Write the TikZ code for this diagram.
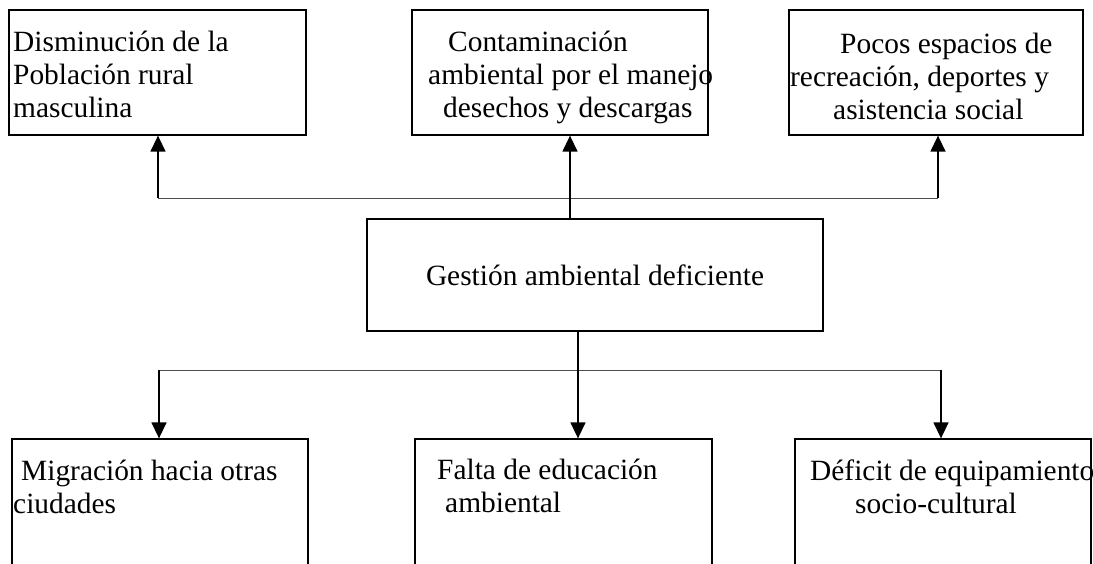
\documentclass[tikz,border=0pt]{standalone}
\usepackage{fontspec}
\setmainfont{Liberation Serif}
\usetikzlibrary{arrows.meta}

\tikzset{
  caja/.style={draw, line width=1.3pt, inner sep=0pt, font=\fontsize{29.4}{33}\selectfont},
  texto/.style={anchor=base west, align=left, inner sep=0pt, font=\fontsize{29.4}{33}\selectfont},
  flecha/.style={line width=1.4pt, -{Triangle[length=16pt,width=15pt]}},
  barra/.style={line width=0.8pt, color=black!70}
}

\begin{document}
\begin{tikzpicture}[x=1pt,y=-1pt]
\useasboundingbox (0,0) rectangle (1093,564);
\clip (0,0) rectangle (1093,564);

% efectos
\node[caja, minimum width=297pt, minimum height=125pt] (dismin) at (157.5,72.5) {};
\node[caja, minimum width=296pt, minimum height=125pt] (contam) at (560,72.5) {};
\node[caja, minimum width=294pt, minimum height=125pt] (pocos) at (936,72.5) {};

% texto anclado en la ultima linea
\node[texto] (dismin-t) at (13,118) {Disminución de la\\Población rural\\masculina};
\node[texto] (contam-t) at (428,118) {\hspace*{20pt}Contaminación\\ambiental por el manejo\\\hspace*{15pt}desechos y descargas};
\node[texto] (pocos-t) at (790,120) {\hspace*{50pt}Pocos espacios de\\recreación, deportes y\\\hspace*{43pt}asistencia social};

% problema central
\node[caja, minimum width=456pt, minimum height=112pt] (gestion) at (595,275) {Gestión ambiental deficiente};

% causas
\node[caja, minimum width=296pt, minimum height=181pt] (migra) at (160,529.5) {};
\node[caja, minimum width=297pt, minimum height=181pt] (falta) at (563.5,529.5) {};
\node[caja, minimum width=296pt, minimum height=181pt] (deficit) at (943,529.5) {};

\node[texto] (migra-t) at (13,513) {\hspace*{8pt}Migración hacia otras\\ciudades};
\node[texto] (falta-t) at (437,512) {Falta de educación\\\hspace*{8pt}ambiental};
\node[texto] (deficit-t) at (810,513) {Déficit de equipamiento\\\hspace*{45pt}socio-cultural};

% barras y flechas
\coordinate (arriba-l) at (158,198);
\coordinate (arriba-r) at (938,198);
\coordinate (abajo-l) at (159,370);
\coordinate (abajo-r) at (941,370);

\draw[barra] (arriba-l) -- (arriba-r);
\draw[flecha] (arriba-l) -- (arriba-l |- dismin.south);
\draw[flecha] (arriba-r) -- (arriba-r |- pocos.south);
\draw[flecha] ([xshift=-25pt]gestion.north) -- ([xshift=10pt]contam.south);

\draw[barra] (abajo-l) -- (abajo-r);
\draw[flecha] (abajo-l) -- (abajo-l |- migra.north);
\draw[flecha] (abajo-r) -- (abajo-r |- deficit.north);
\draw[flecha] ([xshift=-17pt]gestion.south) -- ([xshift=-17pt]gestion.south |- falta.north);
\end{tikzpicture}
\end{document}
